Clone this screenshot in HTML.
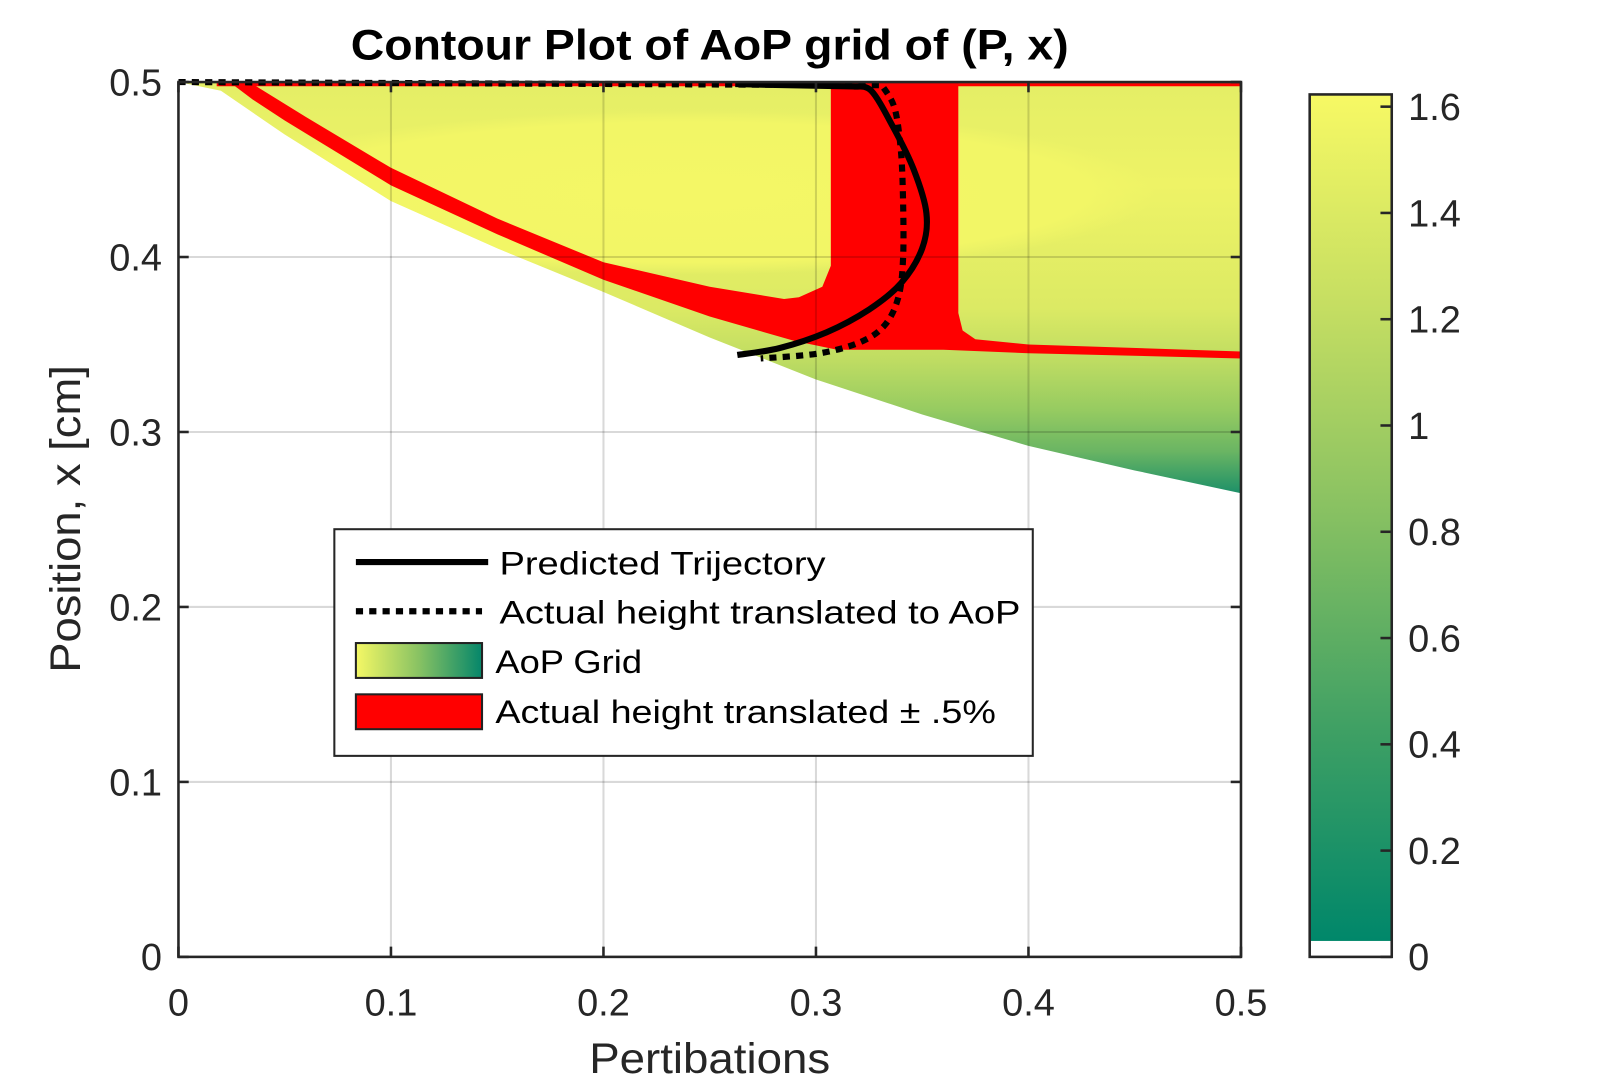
<!DOCTYPE html>
<html><head><meta charset="utf-8"><style>
body{margin:0;background:#fff}
svg{display:block;font-family:"Liberation Sans",sans-serif}
</style></head><body>
<svg id="chart" width="1603" height="1084" viewBox="0 0 1603 1084" xmlns="http://www.w3.org/2000/svg">
<defs>
<linearGradient id="field" gradientUnits="userSpaceOnUse" x1="0" y1="80" x2="0" y2="480">
<stop offset="0" stop-color="#e4ee66"/>
<stop offset="0.25" stop-color="#eef366"/>
<stop offset="0.55" stop-color="#dcea64"/>
<stop offset="0.68" stop-color="#bedc62"/>
<stop offset="0.8" stop-color="#96cb61"/>
<stop offset="0.9" stop-color="#6ab563"/>
<stop offset="1" stop-color="#1f9168"/>
</linearGradient>
<radialGradient id="hot" cx="0.5" cy="0.5" r="0.5">
<stop offset="0" stop-color="#f4f766"/><stop offset="0.85" stop-color="#f2f666"/><stop offset="1" stop-color="#f2f666" stop-opacity="0"/>
</radialGradient>
<linearGradient id="cbar" x1="0" y1="1" x2="0" y2="0">
<stop offset="0" stop-color="#00876a"/>
<stop offset="0.25" stop-color="#3fa064"/>
<stop offset="0.5" stop-color="#86c062"/>
<stop offset="0.75" stop-color="#c5de62"/>
<stop offset="1" stop-color="#f7f964"/>
</linearGradient>
<linearGradient id="legGrad" x1="0" y1="0" x2="1" y2="0">
<stop offset="0" stop-color="#f5f865"/><stop offset="0.5" stop-color="#88c263"/><stop offset="1" stop-color="#05866a"/>
</linearGradient>
<clipPath id="plotClip"><rect x="174" y="80" width="1036" height="853"/></clipPath>
<clipPath id="fieldClip"><polygon id="fieldClipPoly" points="0,0"/></clipPath>
</defs>
<g transform="scale(1.0256)">
<text x="692" y="58" text-anchor="middle" font-size="42" font-weight="bold" textLength="700" lengthAdjust="spacingAndGlyphs">Contour Plot of AoP grid of (P, x)</text>
<g id="plot"></g>
<g id="cb"></g>
<text x="692" y="1046" text-anchor="middle" font-size="42" fill="#262626" textLength="235" lengthAdjust="spacingAndGlyphs">Pertibations</text>
<text transform="translate(78,506) rotate(-90)" text-anchor="middle" font-size="42" fill="#262626" textLength="300" lengthAdjust="spacingAndGlyphs">Position, x [cm]</text>
<g>
<rect x="326" y="516" width="681" height="221" fill="#fff" stroke="#262626" stroke-width="2"/>
<line x1="347" y1="548" x2="476" y2="548" stroke="#000" stroke-width="6"/>
<text x="487" y="560" font-size="32" textLength="318" lengthAdjust="spacingAndGlyphs">Predicted Trijectory</text>
<line x1="347" y1="596" x2="470" y2="596" stroke="#000" stroke-width="6" stroke-dasharray="7 6"/>
<text x="487" y="608" font-size="32" textLength="508" lengthAdjust="spacingAndGlyphs">Actual height translated to AoP</text>
<rect x="347" y="627" width="123" height="34" fill="url(#legGrad)" stroke="#222" stroke-width="2"/>
<text x="483" y="656" font-size="32" textLength="143" lengthAdjust="spacingAndGlyphs">AoP Grid</text>
<rect x="347" y="677" width="123" height="34" fill="#f00" stroke="#222" stroke-width="2"/>
<text x="483" y="705" font-size="32" textLength="488" lengthAdjust="spacingAndGlyphs">Actual height translated ± .5%</text>
</g>
</g>
</svg>
<script>
const xTicks=[0,0.1,0.2,0.3,0.4,0.5];
const yTicks=[0,0.1,0.2,0.3,0.4,0.5];
const cbTicks=[0,0.2,0.4,0.6,0.8,1,1.2,1.4,1.6];
const cbMin=0.03, cbMax=1.623;
const boundaryP=[0,0.02,0.05,0.1,0.15,0.2,0.25,0.3,0.35,0.4,0.45,0.5];
const boundaryX=[0.5,0.495,0.47,0.432,0.405,0.38,0.354,0.33,0.31,0.292,0.278,0.265];
const redOuterP=[0.024,0.367,0.367,0.369,0.375,0.40,0.5,0.5,0.40,0.36,0.31,0.29,0.25,0.2,0.15,0.1,0.05,0.035];
const redOuterX=[0.5,0.5,0.368,0.358,0.353,0.350,0.346,0.342,0.345,0.347,0.347,0.352,0.366,0.387,0.413,0.441,0.478,0.49];
const redHoleP=[0.036,0.307,0.307,0.303,0.292,0.285,0.25,0.2,0.15,0.1,0.06];
const redHoleX=[0.498,0.498,0.395,0.383,0.377,0.376,0.383,0.397,0.422,0.451,0.48];
const predP=[0.262,0.318,0.326,0.336,0.346,0.352,0.350,0.340,0.325,0.305,0.283,0.263];
const predX=[0.4988,0.4975,0.495,0.475,0.45,0.425,0.405,0.385,0.37,0.357,0.348,0.344];
const actP=[0,0.331,0.337,0.340,0.341,0.341,0.339,0.333,0.322,0.302,0.274];
const actX=[0.5,0.4982,0.485,0.46,0.43,0.40,0.378,0.362,0.352,0.345,0.342];
const X0=174,X1=1210,Y0=933,Y1=80;
const sx=v=>X0+(v-0)/(0.5)*(X1-X0);
const sy=v=>Y0-(v-0)/(0.5)*(Y0-Y1);
const cy=v=>933-(v-0)/(1.6)*(933-104);
const NS='http://www.w3.org/2000/svg';
function mk(tag,attrs,parent){const e=document.createElementNS(NS,tag);for(const k in attrs)e.setAttribute(k,attrs[k]);parent.appendChild(e);return e;}
function pts(P,X){return P.map((p,i)=>sx(p).toFixed(1)+','+sy(X[i]).toFixed(1)).join(' ');}
function smooth(P,X){const all=P.map((p,i)=>[sx(p),sy(X[i])]);
let d='M'+all[0][0].toFixed(1)+','+all[0][1].toFixed(1)+' L'+all[1][0].toFixed(1)+','+all[1][1].toFixed(1);
const q=all.slice(1);
for(let i=0;i<q.length-1;i++){const p0=q[Math.max(0,i-1)],p1=q[i],p2=q[i+1],p3=q[Math.min(q.length-1,i+2)];
const c1=[p1[0]+(p2[0]-p0[0])/6,p1[1]+(p2[1]-p0[1])/6],c2=[p2[0]-(p3[0]-p1[0])/6,p2[1]-(p3[1]-p1[1])/6];
d+=' C'+c1[0].toFixed(1)+','+c1[1].toFixed(1)+' '+c2[0].toFixed(1)+','+c2[1].toFixed(1)+' '+p2[0].toFixed(1)+','+p2[1].toFixed(1);}return d;}
const plot=document.getElementById('plot');
mk('rect',{x:X0,y:Y1,width:X1-X0,height:Y0-Y1,fill:'#fff'},plot);
const g=mk('g',{'clip-path':'url(#plotClip)'},plot);
let fieldPts=pts(boundaryP,boundaryX)+' '+sx(0.5)+','+sy(0.5)+' '+sx(0)+','+sy(0.5);
document.getElementById('fieldClipPoly').setAttribute('points',fieldPts);
const field=mk('polygon',{points:fieldPts,fill:'url(#field)'},g);


const hot=mk('ellipse',{cx:sx(0.24),cy:sy(0.437),rx:sx(0.46)-sx(0.24),ry:sy(0.415)-sy(0.462),fill:'url(#hot)','clip-path':'url(#fieldClip)'},g);


const red=mk('path',{d:'M'+pts(redOuterP,redOuterX)+'Z M'+pts(redHoleP,redHoleX)+'Z','fill-rule':'evenodd',fill:'#f00'},g);


const topRed=mk('line',{x1:sx(0.018),y1:sy(0.4985),x2:sx(0.5),y2:sy(0.4985),stroke:'#f00','stroke-width':3},g);


xTicks.forEach(t=>{const l=mk('line',{x1:sx(t),y1:Y1,x2:sx(t),y2:Y0,stroke:'#000','stroke-opacity':0.15,'stroke-width':2},plot);

});
yTicks.forEach(t=>{const l=mk('line',{x1:X0,y1:sy(t),x2:X1,y2:sy(t),stroke:'#000','stroke-opacity':0.15,'stroke-width':2},plot);

});
const pl=mk('path',{d:smooth(predP,predX),fill:'none',stroke:'#000','stroke-width':6,'stroke-linejoin':'round'},plot);


const al=mk('path',{d:smooth(actP,actX),fill:'none',stroke:'#000','stroke-width':6,'stroke-dasharray':'7 6'},plot);


const frame=mk('rect',{x:X0,y:Y1,width:X1-X0,height:Y0-Y1,fill:'none',stroke:'#262626','stroke-width':2.5},plot);


xTicks.forEach(t=>{mk('line',{x1:sx(t),y1:Y0,x2:sx(t),y2:Y0-10,stroke:'#262626','stroke-width':2.5},plot);mk('line',{x1:sx(t),y1:Y1,x2:sx(t),y2:Y1+10,stroke:'#262626','stroke-width':2.5},plot);
const tx=mk('text',{x:sx(t),y:990,'text-anchor':'middle','font-size':37,fill:'#262626'},plot);tx.textContent=String(t);

});
yTicks.forEach(t=>{mk('line',{x1:X0,y1:sy(t),x2:X0+10,y2:sy(t),stroke:'#262626','stroke-width':2.5},plot);mk('line',{x1:X1,y1:sy(t),x2:X1-10,y2:sy(t),stroke:'#262626','stroke-width':2.5},plot);
const tx=mk('text',{x:158,y:sy(t)+13,'text-anchor':'end','font-size':37,fill:'#262626'},plot);tx.textContent=String(t);

});
const cb=document.getElementById('cb');
const cbr=mk('rect',{x:1277,y:cy(cbMax),width:80,height:cy(cbMin)-cy(cbMax),fill:'url(#cbar)'},cb);


mk('rect',{x:1277,y:cy(cbMax),width:80,height:933-cy(cbMax),fill:'none',stroke:'#262626','stroke-width':2.5},cb);
cbTicks.forEach(t=>{mk('line',{x1:1357,y1:cy(t),x2:1346,y2:cy(t),stroke:'#262626','stroke-width':2.5},cb);
const tx=mk('text',{x:1373,y:cy(t)+13,'font-size':37,fill:'#262626'},cb);tx.textContent=String(t);

});
</script>
</body></html>
